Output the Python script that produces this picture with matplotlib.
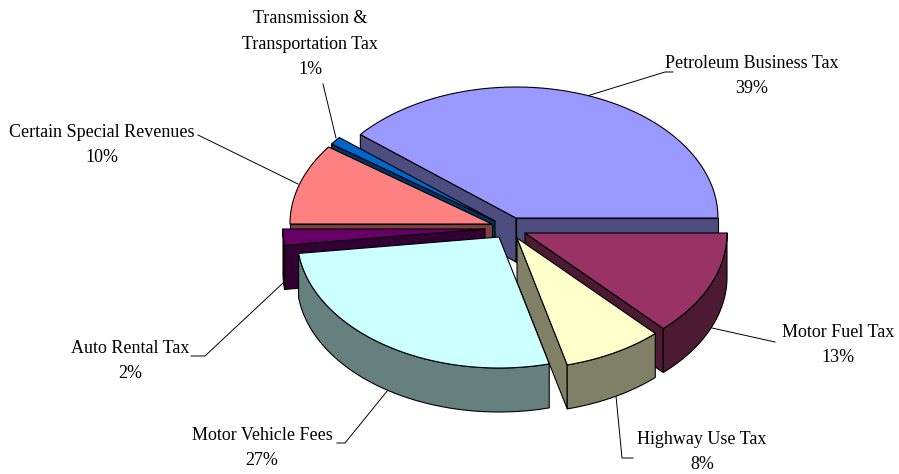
import numpy as np
import matplotlib
matplotlib.use("Agg")
import matplotlib.pyplot as plt
from matplotlib.patches import Polygon

# Data, clockwise from the Petroleum slice's first edge
categories = ["Petroleum Business Tax", "Motor Fuel Tax", "Highway Use Tax", "Motor Vehicle Fees",
              "Auto Rental Tax", "Certain Special Revenues", "Transmission &\nTransportation Tax"]
shares = [39, 13, 8, 27, 2, 10, 1]

# Style
top_colors = ["#9999FF", "#993366", "#FFFFCC", "#CCFFFF", "#660066", "#FF8080", "#0066CC"]
side_colors = ["#4D4D80", "#4D1A33", "#808066", "#668080", "#330033", "#804040", "#003366"]
apexes = [(516, 218), (525, 233), (517, 238), (499, 237), (485, 229), (492, 224), (495, 221)]
draw_order = [0, 6, 5, 4, 1, 2, 3]
RX, RY, DEPTH = 202, 131, 44
START_ANGLE = 140.4
label_pos = [(752, 76), (838, 345), (702, 452), (262, 448), (130, 361), (102, 145), (310, 44)]
leaders = [[(587, 96), (665, 72), (673, 72)],
           [(712, 328), (775, 342)],
           [(616, 396), (622, 458), (633, 458)],
           [(388, 390), (345, 443), (337, 443)],
           [(283, 283), (205, 356), (191, 356)],
           [(298, 184), (198, 135)],
           [(336, 138), (323, 84)]]

fig = plt.figure(figsize=(8.99, 4.74), dpi=100)
ax = fig.add_axes([0, 0, 1, 1])
ax.set_xlim(0, 899)
ax.set_ylim(474, 0)
ax.axis("off")

fractions = np.array(shares) / sum(shares)
ends = START_ANGLE - 360 * np.cumsum(fractions)
starts = np.concatenate([[START_ANGLE], ends[:-1]])


def rim(apex, deg):
    t = np.radians(deg)
    return apex[0] + RX * np.cos(t), apex[1] - RY * np.sin(t)


def poly(pts, color, z):
    ax.add_patch(Polygon(pts, closed=True, facecolor=color, edgecolor="black",
                         linewidth=0.8, joinstyle="round", zorder=z))


z = 2
for i in draw_order:
    a = apexes[i]
    a0, a1 = starts[i], ends[i]
    arc = np.linspace(a0, a1, 80)
    # radial faces, only those turned toward the viewer
    visible = []
    if np.cos(np.radians(a0)) < 0:
        visible.append(a0)
    if np.cos(np.radians(a1)) > 0:
        visible.append(a1)
    for ang in visible:
        r = rim(a, ang)
        poly([a, r, (r[0], r[1] + DEPTH), (a[0], a[1] + DEPTH)], side_colors[i], z)
        z += 1
    # outer wall (front part of the rim only)
    front = np.array([x for x in arc if np.sin(np.radians(x)) <= 0.0001])
    if front.size > 1:
        up = [rim(a, x) for x in front]
        down = [(p[0], p[1] + DEPTH) for p in up[::-1]]
        poly(up + down, side_colors[i], z)
        z += 1
    # top
    poly([a] + [rim(a, x) for x in arc], top_colors[i], z)
    z += 1

for name, share, pos, line in zip(categories, shares, label_pos, leaders):
    xs, ys = zip(*line)
    ax.plot(xs, ys, color="black", lw=0.7, zorder=1)
    ax.text(pos[0], pos[1], f"{name}\n{share}%", ha="center", va="center",
            family="Liberation Serif", fontsize=13, linespacing=1.62,
            color="black", zorder=100, clip_on=False)

fig.savefig("out.png", dpi=100)
